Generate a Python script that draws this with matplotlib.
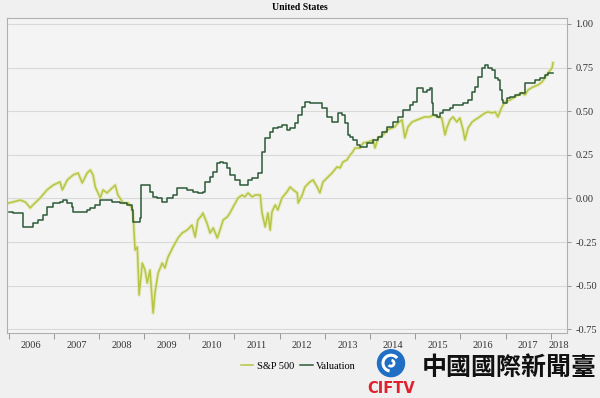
import matplotlib
matplotlib.use("Agg")
import matplotlib.pyplot as plt
from matplotlib.patches import Circle, Arc

# Year fractions and values
SP_YEAR = [2006.00, 2006.10, 2006.26, 2006.37, 2006.48, 2006.54, 2006.70, 2006.85, 2006.99,
           2007.14, 2007.19, 2007.30, 2007.43, 2007.54, 2007.63, 2007.74, 2007.81, 2007.87,
           2007.92, 2008.03, 2008.09, 2008.18, 2008.29, 2008.36, 2008.42, 2008.54, 2008.65,
           2008.73, 2008.76, 2008.80, 2008.85, 2008.89, 2008.96, 2009.02, 2009.07, 2009.13,
           2009.20, 2009.24, 2009.31, 2009.40, 2009.46, 2009.53, 2009.64, 2009.75, 2009.84,
           2009.95, 2010.06, 2010.13, 2010.19, 2010.28, 2010.30, 2010.39, 2010.46, 2010.53,
           2010.62, 2010.68, 2010.75, 2010.84, 2010.90, 2010.97, 2011.08, 2011.17, 2011.23,
           2011.30, 2011.39, 2011.46, 2011.57, 2011.61, 2011.63, 2011.68, 2011.74, 2011.79,
           2011.83, 2011.90, 2011.96, 2012.05, 2012.16, 2012.23, 2012.30, 2012.39, 2012.41,
           2012.50, 2012.56, 2012.67, 2012.74, 2012.83, 2012.89, 2012.96, 2013.07, 2013.16,
           2013.27, 2013.34, 2013.40, 2013.49, 2013.56, 2013.60, 2013.67, 2013.78, 2013.85,
           2013.96, 2014.07, 2014.11, 2014.18, 2014.29, 2014.38, 2014.49, 2014.55, 2014.62,
           2014.71, 2014.77, 2014.84, 2014.93, 2015.04, 2015.15, 2015.21, 2015.33, 2015.39,
           2015.50, 2015.59, 2015.61, 2015.66, 2015.70, 2015.77, 2015.84, 2015.92, 2015.99,
           2016.06, 2016.10, 2016.17, 2016.26, 2016.32, 2016.39, 2016.48, 2016.55, 2016.61,
           2016.70, 2016.77, 2016.83, 2016.92, 2016.99, 2017.10, 2017.21, 2017.27, 2017.36,
           2017.43, 2017.50, 2017.61, 2017.72, 2017.81, 2017.87, 2017.94, 2018.03, 2018.05]
SP_VALUE = [-0.026, -0.020, -0.009, -0.020, -0.054, -0.037, 0.003, 0.049, 0.077,
            0.095, 0.049, 0.106, 0.135, 0.146, 0.089, 0.146, 0.163, 0.135,
            0.066, 0.003, 0.049, 0.032, 0.060, 0.077, 0.020, -0.026, -0.026,
            -0.054, -0.106, -0.295, -0.278, -0.553, -0.370, -0.410, -0.484, -0.410,
            -0.656, -0.542, -0.427, -0.370, -0.398, -0.335, -0.278, -0.226, -0.198,
            -0.181, -0.152, -0.221, -0.123, -0.095, -0.083, -0.140, -0.198, -0.169,
            -0.226, -0.181, -0.123, -0.106, -0.083, -0.049, 0.003, 0.020, 0.009,
            0.032, 0.009, 0.020, 0.020, -0.083, -0.106, -0.163, -0.083, -0.181,
            -0.077, -0.037, -0.066, 0.003, 0.037, 0.066, 0.049, 0.032, -0.026,
            0.020, 0.066, 0.095, 0.106, 0.066, 0.032, 0.095, 0.123, 0.146,
            0.181, 0.175, 0.209, 0.221, 0.249, 0.261, 0.289, 0.289, 0.318,
            0.324, 0.335, 0.289, 0.347, 0.364, 0.393, 0.404, 0.410, 0.433,
            0.450, 0.347, 0.410, 0.438, 0.450, 0.461, 0.467, 0.467, 0.478,
            0.467, 0.461, 0.433, 0.364, 0.404, 0.450, 0.467, 0.438, 0.461,
            0.393, 0.335, 0.404, 0.438, 0.450, 0.461, 0.478, 0.490, 0.496,
            0.490, 0.496, 0.467, 0.524, 0.553, 0.564, 0.582, 0.593, 0.605,
            0.593, 0.622, 0.639, 0.650, 0.668, 0.691, 0.719, 0.748, 0.777]

VAL_YEAR = [2006.00, 2006.10, 2006.32, 2006.41, 2006.54, 2006.65, 2006.77, 2006.85, 2006.99,
            2007.14, 2007.21, 2007.30, 2007.41, 2007.43, 2007.63, 2007.74, 2007.81, 2007.92,
            2008.03, 2008.29, 2008.47, 2008.62, 2008.73, 2008.76, 2008.87, 2008.91, 2008.93,
            2009.09, 2009.13, 2009.20, 2009.29, 2009.40, 2009.51, 2009.64, 2009.73, 2009.84,
            2009.95, 2010.08, 2010.19, 2010.31, 2010.35, 2010.46, 2010.53, 2010.62, 2010.68,
            2010.75, 2010.84, 2010.90, 2011.01, 2011.12, 2011.19, 2011.30, 2011.39, 2011.52,
            2011.61, 2011.68, 2011.79, 2011.85, 2011.96, 2012.05, 2012.16, 2012.23, 2012.34,
            2012.41, 2012.50, 2012.56, 2012.67, 2012.83, 2012.94, 2013.05, 2013.16, 2013.27,
            2013.29, 2013.38, 2013.45, 2013.51, 2013.56, 2013.62, 2013.71, 2013.78, 2013.93,
            2014.07, 2014.18, 2014.27, 2014.38, 2014.51, 2014.62, 2014.73, 2014.88, 2014.95,
            2015.04, 2015.10, 2015.17, 2015.26, 2015.33, 2015.37, 2015.39, 2015.48, 2015.55,
            2015.62, 2015.77, 2015.84, 2015.95, 2016.06, 2016.17, 2016.26, 2016.32, 2016.39,
            2016.48, 2016.55, 2016.61, 2016.70, 2016.77, 2016.83, 2016.88, 2016.92, 2016.94,
            2017.03, 2017.10, 2017.21, 2017.32, 2017.43, 2017.54, 2017.65, 2017.76, 2017.87,
            2017.94, 2018.05]
VAL_VALUE = [-0.077, -0.083, -0.163, -0.163, -0.140, -0.123, -0.095, -0.049, -0.026,
             -0.020, -0.009, -0.026, -0.049, -0.077, -0.077, -0.066, -0.054, -0.037,
             -0.009, -0.020, -0.026, -0.037, -0.066, -0.135, -0.135, -0.112, 0.077,
             0.077, 0.037, 0.009, 0.003, -0.020, 0.003, 0.020, 0.060, 0.060,
             0.049, 0.037, 0.032, 0.037, 0.095, 0.123, 0.152, 0.203, 0.209,
             0.203, 0.175, 0.135, 0.106, 0.077, 0.077, 0.106, 0.117, 0.146,
             0.266, 0.347, 0.381, 0.404, 0.410, 0.421, 0.393, 0.404, 0.433,
             0.478, 0.524, 0.553, 0.547, 0.547, 0.519, 0.467, 0.438, 0.438,
             0.490, 0.479, 0.433, 0.364, 0.352, 0.335, 0.307, 0.295, 0.318,
             0.335, 0.352, 0.381, 0.410, 0.438, 0.467, 0.507, 0.536, 0.553,
             0.633, 0.633, 0.610, 0.622, 0.633, 0.547, 0.478, 0.467, 0.490,
             0.507, 0.519, 0.536, 0.536, 0.547, 0.564, 0.610, 0.639, 0.696,
             0.748, 0.765, 0.748, 0.736, 0.691, 0.679, 0.622, 0.564, 0.547,
             0.576, 0.582, 0.593, 0.605, 0.662, 0.662, 0.679, 0.691, 0.708,
             0.719, 0.719]

YEARS = list(range(2006, 2019))
Y_TICKS = [-0.75, -0.5, -0.25, 0.0, 0.25, 0.5, 0.75, 1.0]

SP_COLOR = "#b7c544"
VAL_COLOR = "#2d5a38"
BG = "#f0f0f0"
SERIF = "Liberation Serif"

fig = plt.figure(figsize=(6.0, 3.98), dpi=100, facecolor=BG)
ax = fig.add_axes([0.012, 0.163, 0.933, 0.792], facecolor="#f4f4f4")

ax.plot(SP_YEAR, SP_VALUE, color="#dfe6a6", lw=2.6, alpha=0.7, zorder=2)
sp_line, = ax.plot(SP_YEAR, SP_VALUE, color=SP_COLOR, lw=1.1, label="S&P 500", zorder=3)
val_line, = ax.plot(VAL_YEAR, VAL_VALUE, color=VAL_COLOR, lw=1.1, label="Valuation",
                    drawstyle="steps-post", zorder=4)

ax.set_xlim(2005.97, 2018.36)
ax.set_ylim(-0.771, 1.034)

# y axis on the right
ax.yaxis.tick_right()
ax.set_yticks(Y_TICKS)
ax.set_yticklabels([f"{v:.2f}" for v in Y_TICKS], fontfamily=SERIF, fontsize=7.5, color="#333333")
ax.tick_params(axis="y", direction="out", length=3, width=0.6, color="#888888", pad=3)
ax.grid(axis="y", color="#d9d9d9", lw=0.8)
ax.set_axisbelow(True)

# year ticks at boundaries, labels in the middle of each year
ax.set_xticks(YEARS)
ax.set_xticklabels([])
ax.tick_params(axis="x", which="major", direction="out", length=4, width=0.6, color="#888888")
mids = [y + 0.5 for y in YEARS[:-1]] + [2018.18]
ax.set_xticks(mids, minor=True)
ax.set_xticklabels([str(y) for y in YEARS], minor=True, fontfamily=SERIF, fontsize=7.5, color="#333333")
ax.tick_params(axis="x", which="minor", length=0, pad=6)

for s in ax.spines.values():
    s.set_color("#b0b0b0")
    s.set_linewidth(0.8)

fig.text(0.5, 0.982, "United States", ha="center", va="center",
         fontfamily=SERIF, fontweight="bold", fontsize=7)

fig.legend(handles=[sp_line, val_line], loc="center", bbox_to_anchor=(0.497, 0.08),
           ncol=2, frameon=False, prop={"family": SERIF, "size": 7.5},
           handlelength=1.2, handletextpad=0.3, columnspacing=0.6)

# watermark logo
logo = fig.add_axes([0.61, 0.0, 0.39, 0.125])
logo.set_xlim(0, 234)
logo.set_ylim(0, 50)
logo.axis("off")
logo.add_patch(Circle((25, 35), 13.5, color="#1f6fc4"))
logo.add_patch(Arc((25, 35), 16, 16, theta1=40, theta2=260, color="white", lw=2.2))
logo.add_patch(Arc((25, 35), 6, 6, theta1=220, theta2=80, color="white", lw=2.0))
logo.text(25, 10, "CIFTV", ha="center", va="center", color="#e0202a",
          fontweight="bold", fontsize=10.5, fontfamily="DejaVu Sans")
logo.text(143, 30, "中國國際新聞臺", ha="center", va="center", color="#111111",
          fontweight="bold", fontsize=18, fontfamily=["Noto Sans CJK TC", "DejaVu Sans"])

fig.savefig("out.png", dpi=100, facecolor=BG)
